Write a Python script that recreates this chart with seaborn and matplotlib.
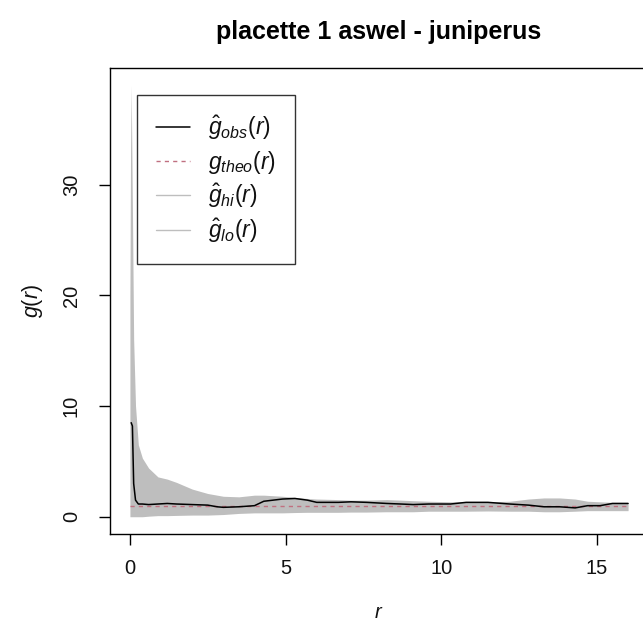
import numpy as np
import pandas as pd
import matplotlib
matplotlib.use("Agg")
import matplotlib.pyplot as plt
from matplotlib.lines import Line2D
import seaborn as sns

# ---- data ----
r_vals = [0.0, 0.02, 0.04, 0.08, 0.12, 0.18, 0.27, 0.4, 0.6, 0.9, 1.2, 1.5, 2.0, 2.5,
          2.8, 3.0, 3.5, 4.0, 4.3, 4.6, 4.9, 5.3, 5.7, 6.0, 6.7, 7.1, 7.6, 8.25, 8.7,
          9.1, 9.6, 10.3, 10.8, 11.5, 12.2, 12.8, 13.3, 13.8, 14.3, 14.7, 15.1, 15.5, 16.0]
g_obs = [np.nan, np.nan, 8.5, 8.2, 3.0, 1.5, 1.15, 1.15, 1.1, 1.15, 1.2, 1.15, 1.1, 1.05,
         0.9, 0.85, 0.9, 1.0, 1.4, 1.5, 1.6, 1.65, 1.5, 1.3, 1.3, 1.35, 1.3, 1.2, 1.15,
         1.1, 1.15, 1.15, 1.3, 1.3, 1.15, 1.05, 0.9, 0.9, 0.8, 1.0, 1.0, 1.2, 1.2]
g_theo = [1.0] * len(r_vals)
g_hi = [20, 33, 39, 28, 16, 10, 6.5, 5.3, 4.4, 3.6, 3.4, 3.1, 2.5, 2.1, 1.95, 1.85, 1.8,
        1.95, 1.95, 1.9, 1.85, 1.75, 1.65, 1.6, 1.55, 1.5, 1.5, 1.55, 1.5, 1.45, 1.4,
        1.35, 1.35, 1.35, 1.4, 1.6, 1.7, 1.7, 1.6, 1.4, 1.35, 1.3, 1.3]
g_lo = [0, 0, 0, 0, 0, 0, 0, 0, 0.05, 0.1, 0.1, 0.12, 0.15, 0.15, 0.18, 0.2, 0.3, 0.35,
        0.35, 0.35, 0.35, 0.38, 0.4, 0.4, 0.4, 0.42, 0.42, 0.45, 0.45, 0.45, 0.5, 0.5,
        0.5, 0.52, 0.5, 0.5, 0.45, 0.45, 0.5, 0.55, 0.55, 0.55, 0.55]
x_ticks = [0, 5, 10, 15]
y_ticks = [0, 10, 20, 30]
title = "placette 1 aswel - juniperus"
legend_labels = [r"$\hat{g}_{obs}(r)$", r"$g_{theo}(r)$", r"$\hat{g}_{hi}(r)$", r"$\hat{g}_{lo}(r)$"]

df = pd.DataFrame({"r": r_vals, "obs": g_obs, "theo": g_theo, "hi": g_hi, "lo": g_lo})

sns.set_style("white")
plt.rcParams["font.family"] = ["Liberation Sans", "DejaVu Sans"]
plt.rcParams["mathtext.fontset"] = "custom"
plt.rcParams["mathtext.rm"] = "Liberation Sans"
plt.rcParams["mathtext.it"] = "Liberation Sans:italic"
plt.rcParams["mathtext.bf"] = "Liberation Sans:bold"
plt.rcParams["text.color"] = "#111111"
plt.rcParams["axes.labelcolor"] = "#111111"
plt.rcParams["xtick.color"] = "#111111"
plt.rcParams["ytick.color"] = "#111111"

fig = plt.figure(figsize=(6.43, 6.30), dpi=100)
ax = fig.add_axes([110 / 643, 1 - 534 / 630, 538 / 643, 466 / 630])

grey = "#bebebe"
theo_col = "#c07080"
ax.fill_between(df["r"], df["lo"], df["hi"], color=grey, linewidth=0, zorder=1)
sns.lineplot(data=df, x="r", y="theo", ax=ax, color=theo_col, linewidth=1.0,
             dashes=False, zorder=2)
ax.lines[-1].set_dashes([3, 3])
sns.lineplot(data=df, x="r", y="obs", ax=ax, color="black", linewidth=1.1, zorder=3)

ax.set_xlim(-0.64, 16.64)
ax.set_ylim(-1.56, 40.56)
ax.set_xticks(x_ticks)
ax.set_yticks(y_ticks)
ax.set_xticklabels([str(v) for v in x_ticks], fontsize=14.5)
ax.set_yticklabels([str(v) for v in y_ticks], fontsize=14.5, rotation=90, va="center")
ax.tick_params(axis="both", direction="out", length=8, width=1, color="black",
               bottom=True, left=True, pad=10)
ax.tick_params(axis="y", pad=13)
for s in ax.spines.values():
    s.set_color("black")
    s.set_linewidth(1)
    s.set_visible(True)

ax.set_xlabel(r"$r$", fontsize=14.5, labelpad=18)
ax.set_ylabel(r"$g(r)$", fontsize=15.5, labelpad=12)
fig.text(379 / 643, 1 - 32 / 630, title, ha="center", va="center",
         fontsize=18, fontweight="bold", color="black")

handles = [Line2D([], [], color="black", linewidth=1.1),
           Line2D([], [], color=theo_col, linewidth=1.0, dashes=[3, 3]),
           Line2D([], [], color=grey, linewidth=1.0),
           Line2D([], [], color=grey, linewidth=1.0)]
leg = ax.legend(handles, legend_labels, loc="upper left",
                bbox_to_anchor=((137 - 110) / 538, 1 - (95 - 68) / 466),
                borderaxespad=0, fontsize=16.5, frameon=True, fancybox=False,
                handlelength=1.5, handletextpad=0.8, labelspacing=0.28,
                borderpad=0.82)
leg.get_frame().set_edgecolor("black")
leg.get_frame().set_linewidth(1)

fig.savefig("out.png", dpi=100)
